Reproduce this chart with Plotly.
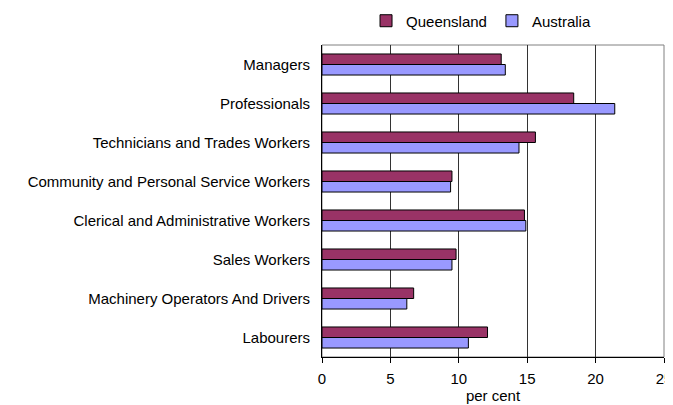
import plotly.graph_objects as go

categories = ["Managers", "Professionals", "Technicians and Trades Workers",
              "Community and Personal Service Workers", "Clerical and Administrative Workers",
              "Sales Workers", "Machinery Operators And Drivers", "Labourers"]
queensland = [13.1, 18.4, 15.6, 9.5, 14.8, 9.8, 6.7, 12.1]
australia = [13.4, 21.4, 14.4, 9.4, 14.9, 9.5, 6.2, 10.7]
x_ticks = [0, 5, 10, 15, 20, 25]

fig = go.Figure()
fig.add_trace(go.Bar(y=categories, x=queensland, name="Queensland", orientation="h",
                     marker=dict(color="#993366", line=dict(color="black", width=1))))
fig.add_trace(go.Bar(y=categories, x=australia, name="Australia", orientation="h",
                     marker=dict(color="#9999FF", line=dict(color="black", width=1))))

FS = 15
# the page body adds an 8px margin, so the figure is 8px smaller in each direction
fig.update_layout(
    width=665, height=397,
    margin=dict(l=314, r=9, t=37, b=48, autoexpand=False),
    paper_bgcolor="white", plot_bgcolor="white",
    barmode="group", bargap=0.46, bargroupgap=0,
    font=dict(family="Liberation Sans, Arial, sans-serif", size=FS, color="black"),
    legend=dict(orientation="h", x=0.465, xanchor="center", y=1.077, yanchor="middle",
                font=dict(size=FS), itemwidth=30, traceorder="normal",
                tracegroupgap=0),
    showlegend=True,
)
fig.update_xaxes(range=[0, 25], tickvals=x_ticks, ticks="outside", ticklen=5,
                 tickcolor="black", showline=True, linecolor="black", linewidth=1,
                 showgrid=True, gridcolor="#333333", gridwidth=1, zeroline=False,
                 automargin=False, ticklabelstandoff=3,
                 title=dict(text="per cent", standoff=0, font=dict(size=FS)),
                 tickfont=dict(size=FS))
fig.update_yaxes(autorange="reversed", showline=True, linecolor="black", linewidth=1,
                 showgrid=False, ticks="", ticklabelstandoff=8, automargin=False,
                 tickfont=dict(size=FS))
fig.add_shape(type="rect", xref="x domain", yref="y domain", x0=0, x1=1, y0=0, y1=1,
              line=dict(color="#808080", width=1), layer="below")

fig.write_html("out.html")
